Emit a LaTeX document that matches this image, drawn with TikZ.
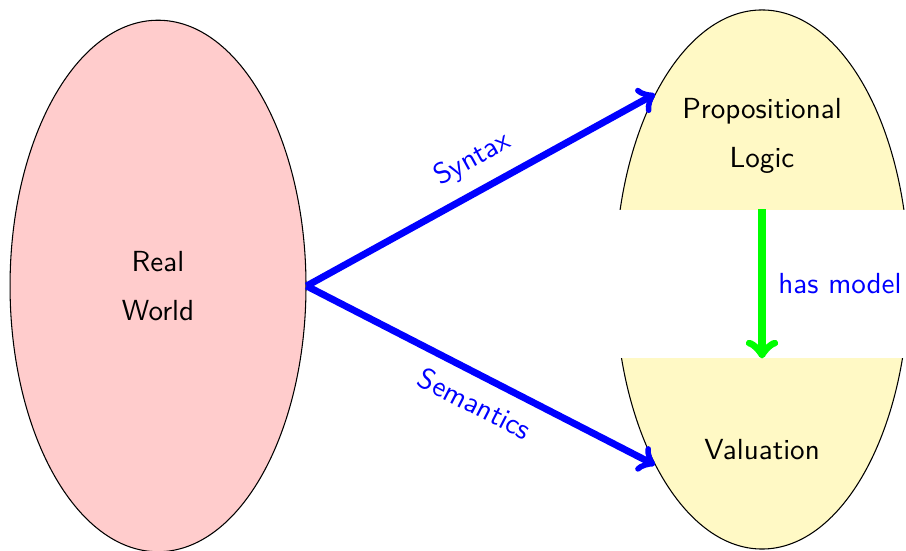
\documentclass[tikz,border=0pt,11pt]{standalone}
\usetikzlibrary{shapes.geometric}
\definecolor{worldpink}{RGB}{255,204,204}
\definecolor{logicyellow}{RGB}{255,249,197}

\begin{document}
\begin{tikzpicture}[font=\sffamily,
                    worldnode/.style={ellipse, draw=black, fill=worldpink, minimum width=3.92cm, minimum height=7.04cm, inner sep=0pt},
                    logicnode/.style={ellipse, draw=black, fill=logicyellow, minimum width=3.89cm, minimum height=7.14cm, inner sep=0pt},
                    labeltext/.style={align=center},
                    mapline/.style={blue, line width=2.6pt, ->},
                    modelline/.style={green, line width=3.1pt, ->},
                ]
                    \useasboundingbox (-2.093,-3.51) rectangle (9.907,3.788);

                    %Nodes
                    \node[worldnode](world) at (0,0) {};
                    \node[logicnode](formal) at (8,0.086) {};
                    \node[fill=white, minimum width=4.2cm, minimum height=1.96cm, inner sep=0pt](gap) at (8,0.027) {};

                    \node[labeltext](worldtext) at (world.center) {Real\\[5pt]World};
                    \node[labeltext](logictext) at (8,1.99) {Propositional\\[5pt]Logic};
                    \node[labeltext](valtext) at (8,-2.17) {Valuation};

                    %Lines
                    \draw[mapline](world.east) -- node[pos=0.52, sloped, above=1.5pt]{Syntax} (formal.120);
                    \draw[mapline](world.east) -- node[pos=0.52, sloped, below=1.5pt]{Semantics} (formal.240);
                    \draw[modelline](gap.north -| formal.center) -- node[right=1pt, blue]{has model} (gap.south -| formal.center);
                \end{tikzpicture}
\end{document}
